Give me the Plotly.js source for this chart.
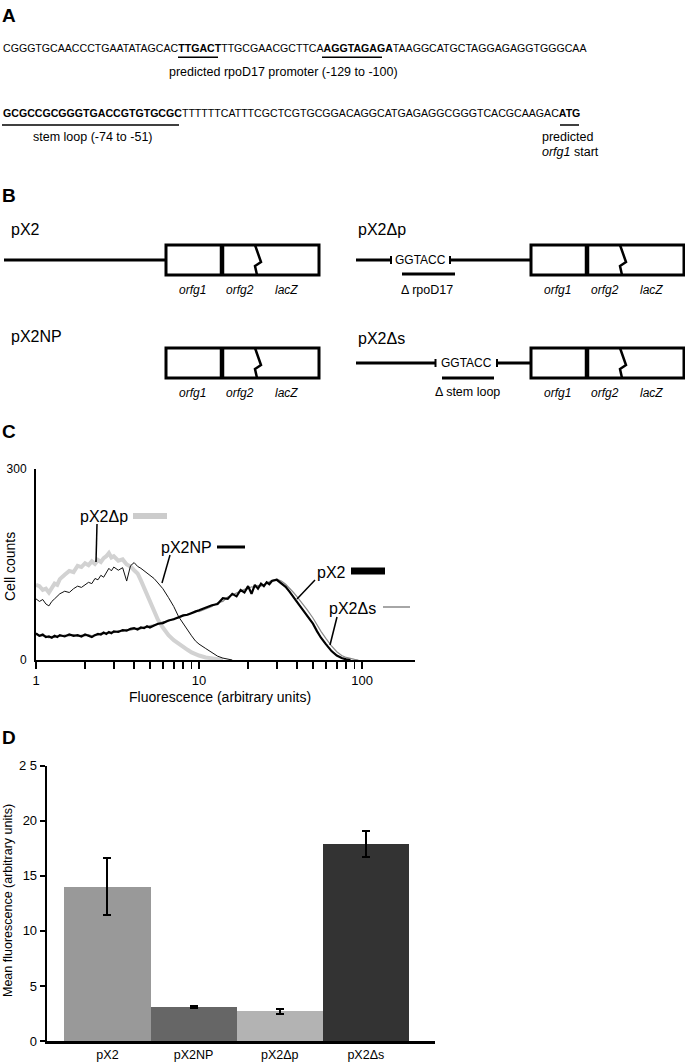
<!DOCTYPE html>
<html>
<head>
<meta charset="utf-8">
<script src="https://cdn.plot.ly/plotly-3.0.1.min.js"></script>
<style>html,body{margin:0;padding:0;background:#fff;}</style>
</head>
<body>
<div id="fig" style="width:685px;height:1064px;"></div>
<script>
var W = 685, H = 1064;
var FONT = 'Liberation Sans, Arial, Helvetica, sans-serif';
function px(x) { return x / W; }
function py(y) { return 1 - y / H; }

// ---- panel A: sequence ----
var seqLine1 = 'CGGGTGCAACCCTGAATATAGCAC<b>TTGACT</b>TTGCGAACGCTTCA<b>AGGTAGAGA</b>TAAGGCATGCTAGGAGAGGTGGGCAA';
var seqLine2 = '<b>GCGCCGCGGGTGACCGTGTGCGC</b>TTTTTTCATTTCGCTCGTGCGGACAGGCATGAGAGGCGGGTCACGCAAGAC<b>ATG</b>';

// ---- panel C: flow cytometry histograms ----
var fluorBins = [1.0,1.05,1.1,1.15,1.2,1.25,1.3,1.35,1.4,1.5,1.6,1.7,1.8,1.9,
  2.0,2.1,2.2,2.3,2.4,2.5,2.6,2.7,2.8,2.9,3.0,3.2,3.4,3.6,3.8,4.0,4.2,4.4,4.6,4.8,
  5.0,5.3,5.6,6.0,6.5,7.0,7.5,8.0,8.5,9.0,9.5,10,11,12,13,14,15,16,17,18,19,
  20,21,22,23,24,25,26,27,28,30,32,34,36,38,40,43,46,50,53,56,60,65,70,75,80,85,90,95,100];
var countsPX2dp = [118,116,110,112,106,114,120,118,127,134,140,138,148,146,
  152,149,155,151,157,154,160,163,168,161,163,156,158,150,147,141,136,125,114,101,
  92,78,63,51,39,31,25,20,16,12,9,7,4,2,1,0,null,null,null,null,null,
  null,null,null,null,null,null,null,null,null,null,null,null,null,null,null,null,null,null,null,null,null,null,null,null,null,null,null,null,null];
var countsPX2NP = [96,92,95,88,85,92,96,100,104,108,106,112,116,114,
  118,122,120,128,126,133,130,138,144,140,146,141,145,124,148,153,147,144,140,136,
  132,128,121,112,98,84,68,57,47,38,30,25,18,11,6,3,1,0,null,null,null,
  null,null,null,null,null,null,null,null,null,null,null,null,null,null,null,null,null,null,null,null,null,null,null,null,null,null,null,null,null];
var countsPX2 = [42,38,40,36,37,35,38,36,39,37,40,38,39,37,
  40,38,36,39,41,40,43,41,44,42,45,44,47,46,49,50,48,51,50,53,
  51,54,57,58,62,64,67,70,71,74,76,78,82,86,88,97,96,104,100,110,106,
  116,104,118,112,120,116,122,119,124,126,121,115,107,98,91,80,70,57,45,35,25,14,7,3,1,0,null,null,null];
var countsPX2ds = [40,37,38,38,35,37,36,38,37,39,38,40,37,39,
  38,40,38,40,39,42,41,43,42,44,43,46,45,48,47,49,50,49,52,51,
  54,55,56,60,61,65,66,69,72,73,77,76,80,84,90,92,99,102,105,108,111,
  112,115,114,117,116,119,121,123,125,127,124,119,113,106,99,89,79,66,55,45,34,22,13,7,4,2,1,0,null];

// ---- panel D: mean fluorescence ----
var strains = ['pX2', 'pX2NP', 'pX2\u0394p', 'pX2\u0394s'];
var meanFluor = [14.0, 3.1, 2.7, 17.9];
var meanErr = [2.6, 0.1, 0.22, 1.2];
var barColors = ['#999999', '#666666', '#b3b3b3', '#333333'];
var yTickVals = [0, 5, 10, 15, 20, 25];
var yTickText = ['0', '5', '10', '15', '20', '2 5'];

var histTicks = [1,2,3,4,5,6,7,8,9,10,20,30,40,50,60,70,80,90,100];
var histTickText = histTicks.map(function(v) { return (v === 1 || v === 10 || v === 100) ? String(v) : ''; });

var shapes = [];
var annotations = [];

function line(x0, y0, x1, y1, w, color) {
  shapes.push({type: 'line', xref: 'paper', yref: 'paper',
    x0: px(x0), y0: py(y0), x1: px(x1), y1: py(y1),
    line: {color: color || '#000', width: w}});
}
function txt(x, y, text, size, opts) {
  var a = {xref: 'paper', yref: 'paper', x: px(x), y: py(y), text: text,
    showarrow: false, font: {family: FONT, size: size, color: '#000'},
    xanchor: 'center', yanchor: 'middle'};
  for (var k in (opts || {})) a[k] = opts[k];
  annotations.push(a);
}

// panel letters
txt(9, 15, '<b>A</b>', 19);
txt(9, 195, '<b>B</b>', 19);
txt(9, 431, '<b>C</b>', 19);
txt(9, 737, '<b>D</b>', 19);

// panel A
txt(0.5, 47.7, seqLine1, 10.6, {xanchor: 'left'});
line(178, 57.3, 218, 57.3, 1.5);
line(322, 57.3, 382, 57.3, 1.5);
txt(283.5, 71.7, 'predicted rpoD17 promoter (-129 to -100)', 12.5);
txt(0.5, 113.3, seqLine2, 10.6, {xanchor: 'left'});
line(2, 125, 179, 125, 1.5);
line(560, 125, 579, 125, 1.5);
txt(92.5, 136.7, 'stem loop (-74 to -51)', 12.5);
txt(540, 137, 'predicted', 12.5, {xanchor: 'left'});
txt(540, 152, '<i>orfg1</i> start', 12.5, {xanchor: 'left'});

// panel B: construct diagrams
function cassette(x0, yTop) {
  shapes.push({type: 'rect', xref: 'paper', yref: 'paper',
    x0: px(x0), y0: py(yTop + 30), x1: px(x0 + 153), y1: py(yTop),
    line: {color: '#000', width: 3}, fillcolor: 'rgba(0,0,0,0)'});
  line(x0 + 56, yTop, x0 + 56, yTop + 30, 4.5);
  shapes.push({type: 'path', xref: 'paper', yref: 'paper',
    path: 'M' + px(x0 + 89) + ',' + py(yTop) + ' L' + px(x0 + 95) + ',' + py(yTop + 17) +
          ' L' + px(x0 + 89) + ',' + py(yTop + 21) + ' L' + px(x0 + 91) + ',' + py(yTop + 30),
    line: {color: '#000', width: 2.5}});
  txt(x0 + 26, yTop + 45, '<i>orfg1</i>', 12);
  txt(x0 + 74, yTop + 45, '<i>orfg2</i>', 12);
  txt(x0 + 120, yTop + 45, '<i>lacZ</i>', 12);
}
function kpnSite(xl, xr, yMid) {
  line(xl, yMid - 4, xl, yMid + 4, 2);
  line(xr, yMid - 4, xr, yMid + 4, 2);
  txt((xl + xr) / 2, yMid, 'GGTACC', 12);
}

txt(9, 230, 'pX2', 16, {xanchor: 'left'});
line(4, 260, 166, 260, 3);
cassette(166, 245);

txt(356, 230, 'pX2\u0394p', 16, {xanchor: 'left'});
line(356, 260, 391, 260, 3);
kpnSite(391, 450, 260);
line(450, 260, 531, 260, 3);
cassette(531, 245);
line(402, 274, 455, 274, 3);
txt(427, 290, '\u0394 rpoD17', 12.5);

txt(9, 336, 'pX2NP', 16, {xanchor: 'left'});
cassette(166, 348);

txt(356, 339, 'pX2\u0394s', 16, {xanchor: 'left'});
line(356, 363, 435.5, 363, 3);
kpnSite(435.5, 497, 363);
line(497, 363, 531, 363, 3);
cassette(531, 348);
line(442, 378, 494, 378, 3);
txt(467, 392, '\u0394 stem loop', 12.5);

// panel C labels, legend bars and leader lines
txt(104, 516, 'pX2\u0394p', 16);
line(133, 516, 167, 516, 6, '#cccccc');
line(97, 524, 96, 562, 1.5);
txt(187, 547, 'pX2NP', 16);
line(217, 547, 245, 547, 3);
line(170, 555, 162, 583, 1.5);
txt(331, 572, 'pX2', 16);
line(351, 571, 385, 571, 7);
line(315, 580, 297, 599, 1.5);
txt(353, 608, 'pX2\u0394s', 16);
line(383, 607, 410, 607, 1.5, '#888888');
line(337, 617, 330, 645, 1.5);
txt(10, 567, 'Cell counts', 14, {textangle: -90});
txt(220, 697, 'Fluorescence (arbitrary units)', 14);

// panel D axis title
txt(8, 901, 'Mean fluorescence (arbitrary units)', 12.5, {textangle: -90});

var data = [
  {x: fluorBins, y: countsPX2dp, type: 'scatter', mode: 'lines', xaxis: 'x', yaxis: 'y',
   line: {color: '#d2d2d2', width: 4}, name: 'pX2\u0394p'},
  {x: fluorBins, y: countsPX2NP, type: 'scatter', mode: 'lines', xaxis: 'x', yaxis: 'y',
   line: {color: '#111111', width: 1}, name: 'pX2NP'},
  {x: fluorBins, y: countsPX2ds, type: 'scatter', mode: 'lines', xaxis: 'x', yaxis: 'y',
   line: {color: '#8a8a8a', width: 1.2}, name: 'pX2\u0394s'},
  {x: fluorBins, y: countsPX2, type: 'scatter', mode: 'lines', xaxis: 'x', yaxis: 'y',
   line: {color: '#000000', width: 2.2}, name: 'pX2'},
  {x: strains, y: meanFluor, type: 'bar', xaxis: 'x2', yaxis: 'y2', width: 1,
   marker: {color: barColors, line: {width: 0}},
   error_y: {type: 'data', array: meanErr, visible: true, color: '#000', thickness: 2, width: 4}}
];

var layout = {
  width: W, height: H,
  margin: {l: 0, r: 0, t: 0, b: 0},
  paper_bgcolor: '#fff', plot_bgcolor: 'rgba(0,0,0,0)',
  font: {family: FONT, color: '#000'},
  showlegend: false,
  bargap: 0,
  xaxis: {
    domain: [px(36), px(415)], anchor: 'y', type: 'log', range: [0, 2.325],
    tickvals: histTicks, ticktext: histTickText, ticks: 'outside', ticklen: 7,
    tickwidth: 1.5, tickcolor: '#000', tickfont: {size: 13},
    showline: true, linecolor: '#000', linewidth: 2, showgrid: false, zeroline: false
  },
  yaxis: {
    domain: [py(660), py(469)], anchor: 'x', range: [0, 300],
    tickvals: [0, 300], ticks: '', tickfont: {size: 12}, ticklabelstandoff: 5,
    showline: true, linecolor: '#000', linewidth: 2, showgrid: false, zeroline: false
  },
  xaxis2: {
    domain: [px(47.2), px(434.7)], anchor: 'y2', type: 'category', range: [-0.7, 3.8],
    ticks: '', tickfont: {size: 12.5}, ticklabelstandoff: 0,
    showline: true, linecolor: '#000', linewidth: 2.5, showgrid: false, zeroline: false
  },
  yaxis2: {
    domain: [py(1041), py(765.7)], anchor: 'x2', range: [0, 25],
    tickvals: yTickVals, ticktext: yTickText, ticks: 'outside', ticklen: 5,
    tickwidth: 2, tickcolor: '#000', tickfont: {size: 13},
    showline: true, linecolor: '#000', linewidth: 2.5, showgrid: false, zeroline: false
  },
  shapes: shapes,
  annotations: annotations
};

Plotly.newPlot('fig', data, layout, {displayModeBar: false, staticPlot: true});
</script>
</body>
</html>
